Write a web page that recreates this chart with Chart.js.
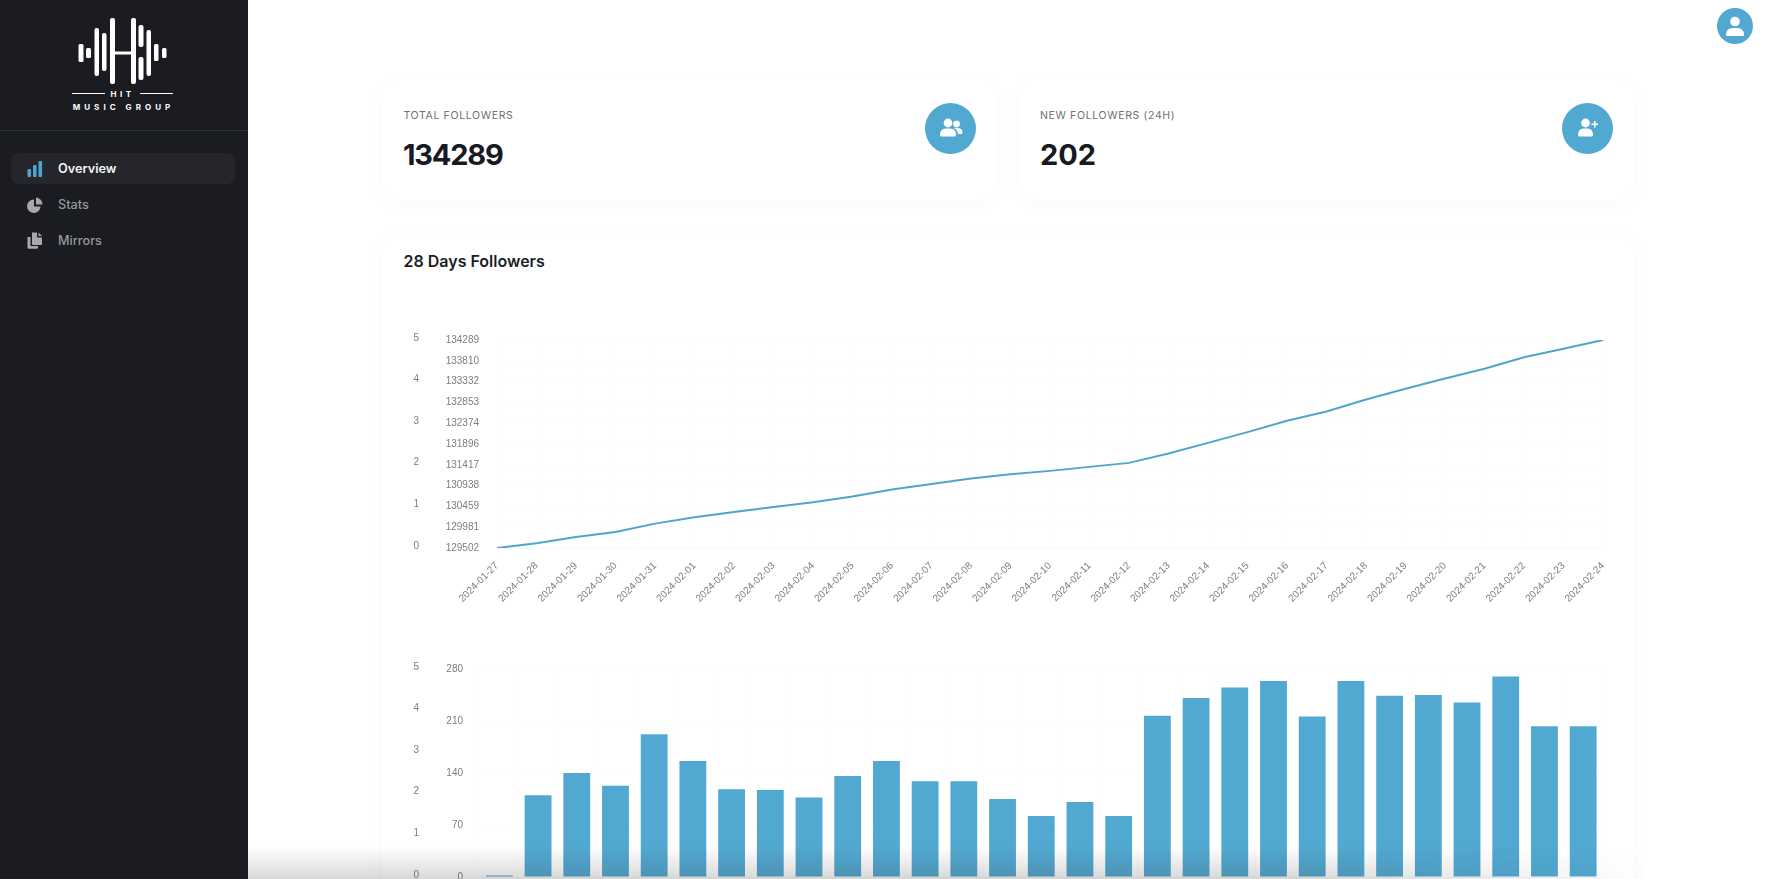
<!DOCTYPE html>
<html>
<head>
<meta charset="utf-8">
<title>Overview</title>
<script src="https://cdn.jsdelivr.net/npm/chart.js@4"></script>
<style>
html, body { margin: 0; padding: 0; width: 1765px; height: 879px; overflow: hidden; background: #fff; font-family: Inter, "Noto Sans", sans-serif; }
.abs { position: absolute; }
.sidebar { position: absolute; left: 0; top: 0; width: 248px; height: 879px; background: #1a1c22; }
.divider { position: absolute; left: 0; top: 130px; width: 248px; height: 1px; background: #2d3037; }
.pill { position: absolute; left: 11px; top: 153px; width: 224px; height: 31px; border-radius: 8px; background: #24262c; }
.nav { position: absolute; left: 58px; font-size: 12.7px; line-height: 16px; font-weight: 500; color: #96989c; }
.nav.on { color: #f4f4f5; font-weight: 600; }
.card { position: absolute; background: #fff; border-radius: 18px; box-shadow: 0 4px 22px rgba(20,25,35,.024); }
.lbl { position: absolute; font-size: 10.5px; line-height: 14px; letter-spacing: .65px; color: #6d7076; white-space: nowrap; }
.num { position: absolute; font-size: 29px; line-height: 36px; font-weight: 700; color: #161a22; }
.title { position: absolute; left: 403.5px; top: 251px; font-size: 16px; line-height: 20px; font-weight: 600; color: #1b1e25; }
.circle { position: absolute; border-radius: 50%; background: #51a8d1; }
.fade { position: absolute; left: 248px; bottom: 0; width: 1400px; height: 32px; pointer-events: none;
  background: linear-gradient(to bottom, rgba(60,60,60,0), rgba(60,60,60,.2));
  -webkit-mask-image: linear-gradient(to right, #000 75%, transparent 100%); }
canvas { position: absolute; }
</style>
</head>
<body>

<div class="sidebar">
  <svg class="abs" style="left:0;top:0" width="248" height="125" viewBox="0 0 248 125">
    <g fill="#fff">
      <rect x="78.5" y="44" width="5" height="18" rx="1.5"/>
      <rect x="86" y="48" width="5" height="10" rx="1.5"/>
      <rect x="94.5" y="28" width="4.5" height="48" rx="2"/>
      <rect x="102" y="33" width="4.5" height="38" rx="2"/>
      <rect x="110" y="18" width="5" height="66" rx="2"/>
      <rect x="131" y="18" width="5" height="66" rx="2"/>
      <rect x="115" y="51.5" width="16" height="3"/>
      <rect x="138.5" y="25" width="5" height="22" rx="2"/>
      <rect x="138.5" y="57" width="5" height="23" rx="2"/>
      <rect x="146.5" y="30" width="4.5" height="46" rx="2"/>
      <rect x="154" y="44" width="4.5" height="17" rx="1.5"/>
      <rect x="162" y="48" width="4.5" height="10" rx="1.5"/>
      <rect x="72" y="93" width="33" height="1"/>
      <rect x="140" y="93" width="33" height="1"/>
    </g>
    <text x="122.5" y="96.5" text-anchor="middle" fill="#fff" font-family="Inter" font-weight="700" font-size="8" letter-spacing="3.4">HIT</text>
    <text x="123.5" y="109.5" text-anchor="middle" fill="#fff" font-family="Inter" font-weight="700" font-size="8" letter-spacing="4.05">MUSIC GROUP</text>
  </svg>
  <div class="divider"></div>
  <div class="pill"></div>
  <svg class="abs" style="left:27px;top:161px" width="16" height="16" viewBox="0 0 16 16" fill="#4fa3cc">
    <rect x="0.5" y="8" width="3.6" height="8" rx="1"/><rect x="6" y="4" width="3.6" height="12" rx="1"/><rect x="11.5" y="0" width="3.6" height="16" rx="1"/>
  </svg>
  <div class="nav on" style="top:160.5px">Overview</div>
  <svg class="abs" style="left:27px;top:197px" width="16" height="16" viewBox="0 0 16 16" fill="#a6a8ab">
    <path d="M7 2.4 A6.8 6.8 0 1 0 13.6 9.6 L7 9.6 Z"/><path d="M9 0.5 A7 7 0 0 1 15.5 7.5 L9 7.5 Z"/>
  </svg>
  <div class="nav" style="top:196.5px">Stats</div>
  <svg class="abs" style="left:27px;top:232px" width="16" height="17" viewBox="0 0 16 17" fill="#a6a8ab">
    <path d="M0.5 5 H3.5 V14 H11 V16 Q11 16.8 10 16.8 H1.5 Q0.5 16.8 0.5 16 Z"/><path d="M5 0.5 H10 V5.5 H15 V12 Q15 13 14 13 H6 Q5 13 5 12 Z"/><path d="M11.5 0.5 L15 4 H11.5 Z"/>
  </svg>
  <div class="nav" style="top:233px">Mirrors</div>
</div>

<div class="circle" style="left:1717px;top:8px;width:36px;height:36px"></div>
<svg class="abs" style="left:1725px;top:15px" width="20" height="22" viewBox="0 0 20 22" fill="#fff">
  <circle cx="10" cy="6.5" r="4.8"/><path d="M1 20 Q1 13 8 13 H12 Q19 13 19 20 Q19 21 18 21 H2 Q1 21 1 20 Z"/>
</svg>

<div class="card" style="left:382px;top:79px;width:614px;height:121px"></div>
<div class="card" style="left:1020px;top:79px;width:614px;height:121px"></div>
<div class="card" style="left:382px;top:233px;width:1252px;height:800px"></div>

<div class="lbl" style="left:403.5px;top:109px">TOTAL FOLLOWERS</div>
<div class="num" style="left:403px;top:137px;letter-spacing:-1.2px">134289</div>
<div class="circle" style="left:925px;top:103px;width:51px;height:51px"></div>
<svg class="abs" style="left:939px;top:118px" width="24" height="20" viewBox="0 0 24 20" fill="#fff">
  <circle cx="9" cy="5" r="4.4"/><path d="M1 17 Q1 10.5 7 10.5 H11 Q17 10.5 17 17 Q17 18.5 15.5 18.5 H2.5 Q1 18.5 1 17 Z"/>
  <circle cx="17.5" cy="6" r="3.4"/><path d="M15 10 H18.5 Q23.5 10 23.5 15 Q23.5 16 22.5 16 H19 Q19 12.5 15 10 Z"/>
</svg>

<div class="lbl" style="left:1040px;top:109px">NEW FOLLOWERS (24H)</div>
<div class="num" style="left:1040px;top:137px">202</div>
<div class="circle" style="left:1562px;top:103px;width:51px;height:51px"></div>
<svg class="abs" style="left:1577px;top:118px" width="22" height="20" viewBox="0 0 22 20" fill="#fff">
  <circle cx="8.5" cy="5" r="4.4"/><path d="M1 17 Q1 10.5 6.5 10.5 H10.5 Q16 10.5 16 17 Q16 18.5 14.5 18.5 H2.5 Q1 18.5 1 17 Z"/>
  <rect x="17" y="3" width="1.6" height="6.5"/><rect x="14.5" y="5.5" width="6.5" height="1.6"/>
</svg>

<div class="title">28 Days Followers</div>

<canvas id="lineChart" style="left:400px;top:316px"></canvas>
<canvas id="barChart" style="left:400px;top:646px"></canvas>
<div class="fade"></div>

<script>
const dates = [
  "2024-01-27", "2024-01-28", "2024-01-29", "2024-01-30", "2024-01-31",
  "2024-02-01", "2024-02-02", "2024-02-03", "2024-02-04", "2024-02-05",
  "2024-02-06", "2024-02-07", "2024-02-08", "2024-02-09", "2024-02-10",
  "2024-02-11", "2024-02-12", "2024-02-13", "2024-02-14", "2024-02-15",
  "2024-02-16", "2024-02-17", "2024-02-18", "2024-02-19", "2024-02-20",
  "2024-02-21", "2024-02-22", "2024-02-23", "2024-02-24"
];
const totalFollowers = [
  129502, 129610, 129756, 129871, 130063, 130209, 130332, 130447, 130555, 130685,
  130847, 130977, 131100, 131200, 131277, 131369, 131461, 131677, 131922, 132168,
  132430, 132645, 132921, 133167, 133405, 133628, 133890, 134089, 134289
];
const newFollowers = [
  2, 110, 140, 123, 192, 156, 118, 117, 107, 136,
  156, 129, 129, 105, 82, 101, 82, 217, 241, 255,
  264, 216, 264, 244, 245, 235, 270, 203, 203
];
const totalTicks = [129502, 129981, 130459, 130938, 131417, 131896, 132374, 132853, 133332, 133810, 134289];
const newTicks = [0, 70, 140, 210, 280];
const sideTicks = [0, 1, 2, 3, 4, 5];

const blue = "#51a8d1";
const tickFont = { family: "'Liberation Sans', Arial, sans-serif", size: 10 };
const tickColor = "#7d7d7d";
const faint = "rgba(0,0,0,0.007)";

function setWidth(w) {
  return function (scale) { scale.width = w; };
}
function setTicks(list) {
  return function (scale) { scale.ticks = list.map(function (v) { return { value: v }; }); };
}

// x axis is the same on both charts
function xAxis() {
  return {
    grid: { color: faint, drawTicks: false },
    border: { color: "#f7f7f7" },
    ticks: { font: tickFont, color: tickColor, minRotation: 45, maxRotation: 45, autoSkip: false, padding: 12 },
    afterFit: function (scale) { scale.height = 75; }
  };
}
// higher weight puts the 0-5 axis on the outside, its labels sit 2px above the grid
function sideAxis() {
  return {
    position: "left",
    weight: 1,
    min: -0.05,
    max: 4.95,
    grid: { display: false, drawTicks: false },
    border: { display: false },
    afterBuildTicks: setTicks(sideTicks),
    ticks: { font: tickFont, color: tickColor, padding: 6 },
    afterFit: setWidth(25)
  };
}
function valueAxis(list, w, pad) {
  return {
    position: "left",
    weight: 0,
    min: list[0],
    max: list[list.length - 1],
    grid: { color: faint, drawTicks: false },
    border: { display: false },
    afterBuildTicks: setTicks(list),
    ticks: { font: tickFont, color: tickColor, padding: pad, callback: function (v) { return String(v); } },
    afterFit: setWidth(w)
  };
}

const lineCanvas = document.getElementById("lineChart");
lineCanvas.width = 1225;
lineCanvas.height = 307;
new Chart(lineCanvas, {
  type: "line",
  data: {
    labels: dates,
    datasets: [{
      data: totalFollowers,
      yAxisID: "y1",
      borderColor: "#50a5c8",
      borderWidth: 2,
      pointRadius: 0,
      tension: 0,
      fill: false
    }]
  },
  options: {
    responsive: false,
    animation: false,
    devicePixelRatio: 1,
    layout: { padding: { top: 10, right: 22, left: 0, bottom: 0 } },
    plugins: { legend: { display: false }, tooltip: { enabled: false } },
    scales: { x: xAxis(), y0: sideAxis(), y1: valueAxis(totalTicks, 72, 18) }
  }
});

const barCanvas = document.getElementById("barChart");
barCanvas.width = 1225;
barCanvas.height = 306;
new Chart(barCanvas, {
  type: "bar",
  data: {
    labels: dates,
    datasets: [{
      data: newFollowers,
      yAxisID: "y1",
      backgroundColor: blue,
      barPercentage: 0.9,
      categoryPercentage: 0.77
    }]
  },
  options: {
    responsive: false,
    animation: false,
    devicePixelRatio: 1,
    layout: { padding: { top: 10, right: 22.5, left: 0, bottom: 0 } },
    plugins: { legend: { display: false }, tooltip: { enabled: false } },
    scales: { x: xAxis(), y0: sideAxis(), y1: valueAxis(newTicks, 55, 17) }
  }
});
</script>
</body>
</html>
